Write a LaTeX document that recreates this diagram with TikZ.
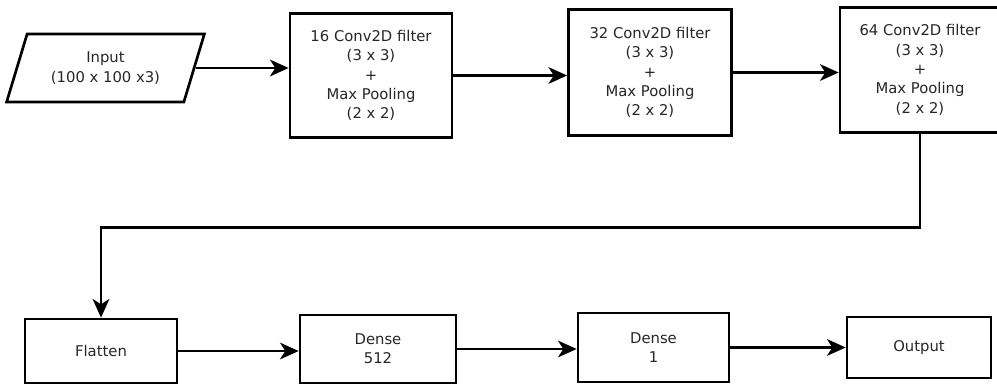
\documentclass[tikz,border=0pt]{standalone}
\usepackage{fontspec}
\setmainfont{DejaVu Sans}
\usetikzlibrary{arrows.meta, positioning, shapes.geometric}

\begin{document}
\begin{tikzpicture}[x=0.75pt, y=-0.75pt, every node/.style={font={\fontsize{11.1pt}{14.5pt}\selectfont}, text=black!85, align=center},
    >={Stealth[length=14pt, width=12.5pt, inset=4pt]}, line width=2pt,
    layer/.style={draw, inner sep=0pt, line width=2pt}]
    \useasboundingbox (0,0) rectangle (997,384);

    \node[draw, trapezium, trapezium left angle=66, trapezium right angle=114, trapezium stretches=true,
          minimum width=148.5pt, minimum height=51pt, inner sep=0pt, line width=2pt] (input) at (105.5,68) {Input\\(100 x 100 x3)};
    \node[layer, minimum width=121.5pt, minimum height=93pt] (conv16) at (371,75.5) {16 Conv2D filter\\(3 x 3)\\+\\Max Pooling\\(2 x 2)};
    \node[layer, minimum width=122.25pt, minimum height=94.5pt] (conv32) at (650,72.5) {32 Conv2D filter\\(3 x 3)\\+\\Max Pooling\\(2 x 2)};
    \node[layer, minimum width=120pt, minimum height=93.75pt] (conv64) at (920,70) {64 Conv2D filter\\(3 x 3)\\+\\Max Pooling\\(2 x 2)};

    \node[layer, minimum width=114pt, minimum height=48pt] (flatten) at (101,351) {Flatten};
    \node[layer, minimum width=117pt, minimum height=51pt] (dense512) at (378,349) {Dense\\512};
    \node[layer, minimum width=113.25pt, minimum height=51.75pt] (dense1) at (653.5,347.5) {Dense\\1};
    \node[layer, minimum width=108pt, minimum height=45.75pt] (output) at (919,347.5) {Output};

    \draw[->] (input.east) -- (input.east -| conv16.west);
    \draw[->] (conv16.east) -- (conv16.east -| conv32.west);
    \draw[->] (conv32.east) -- (conv32.east -| conv64.west);
    \draw[->] (conv64.south) -- ++(0,94) -| (flatten.north);
    \draw[->] (flatten.east) -- (flatten.east -| dense512.west);
    \draw[->] (dense512.east) -- (dense512.east -| dense1.west);
    \draw[->] (dense1.east) -- (dense1.east -| output.west);
\end{tikzpicture}
\end{document}
